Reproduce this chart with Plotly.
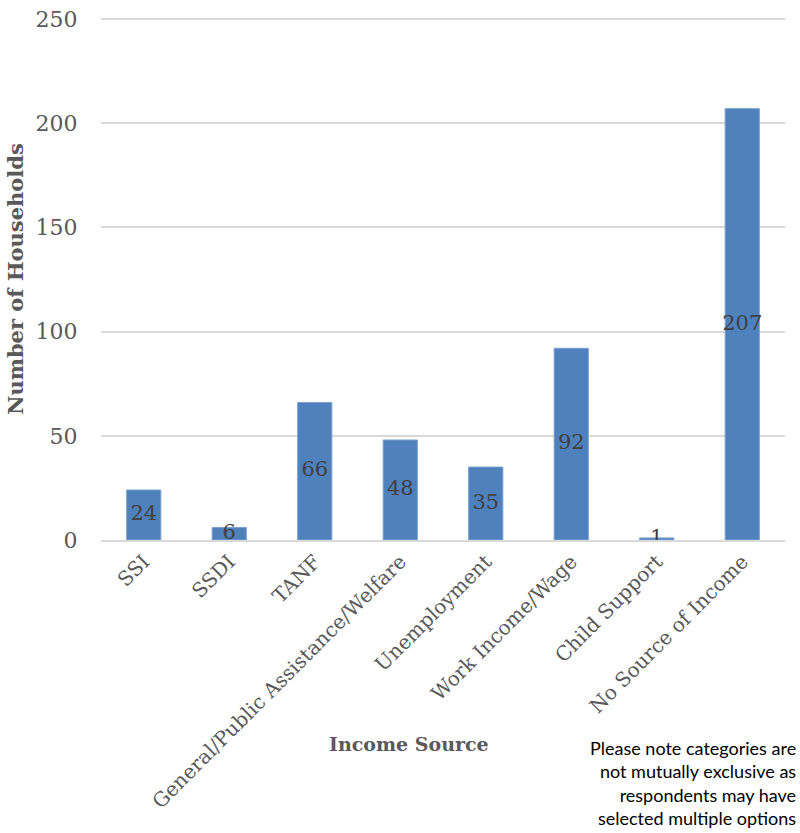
import plotly.graph_objects as go

categories = ["SSI", "SSDI", "TANF", "General/Public Assistance/Welfare",
              "Unemployment", "Work Income/Wage", "Child Support", "No Source of Income"]
households = [24, 6, 66, 48, 35, 92, 1, 207]
y_ticks = [0, 50, 100, 150, 200, 250]

SERIF = "DejaVu Serif, Liberation Serif, serif"

L, R, T, B = 101, 15, 18, 293
W, H = 800, 833
pw = W - L - R
ph = H - T - B

def px_to_paper(xp, yp):
    return (xp - L) / pw, (H - B - yp) / ph

fig = go.Figure()
fig.add_trace(go.Bar(
    x=categories, y=households, width=0.4,
    marker=dict(color="#4F81BD", line=dict(color="#7ba0d0", width=1)),
    hoverinfo="skip",
))
fig.add_trace(go.Scatter(
    x=categories, y=[v / 2 for v in households], mode="text",
    text=[str(v) for v in households],
    textfont=dict(family=SERIF, size=21, color="#404040"),
    hoverinfo="skip",
))

ax, ay = px_to_paper(409, 757)
nx, ny = px_to_paper(798, 735)

fig.update_layout(
    width=W, height=H,
    margin=dict(l=L, r=R, t=T, b=B),
    plot_bgcolor="white", paper_bgcolor="white",
    showlegend=False,
    xaxis=dict(
        automargin=False,
        tickangle=-45, tickfont=dict(family=SERIF, size=20, color="#595959"),
        showgrid=False, showline=True, linecolor="#D9D9D9", linewidth=2,
        ticks="", range=[-0.5, 7.5],
    ),
    yaxis=dict(
        automargin=False,
        range=[0, 250.5], tickvals=y_ticks, ticktext=[str(t) for t in y_ticks],
        tickfont=dict(family=SERIF, size=22, color="#595959"),
        showgrid=True, gridcolor="#D9D9D9", gridwidth=2, zeroline=False,
        showline=False, ticks="outside", ticklen=18, tickcolor="rgba(0,0,0,0)",
        title=dict(text="<b>Number of Households</b>",
                   font=dict(family=SERIF, size=21, color="#595959"), standoff=6),
    ),
    annotations=[
        dict(text="<b>Income Source</b>", x=ax, y=ay, xref="paper", yref="paper",
             showarrow=False, font=dict(family=SERIF, size=19, color="#595959")),
        dict(text="Please note categories are<br>not mutually exclusive as<br>respondents may have<br>selected multiple options",
             xref="paper", yref="paper", x=nx, y=ny, xanchor="right", yanchor="top",
             align="right", showarrow=False,
             font=dict(family="Lato, Noto Sans, sans-serif", size=18, color="#000000")),
    ],
)

fig.write_html("out.html", config={"displayModeBar": False},
               post_script="document.body.style.margin='0';")
